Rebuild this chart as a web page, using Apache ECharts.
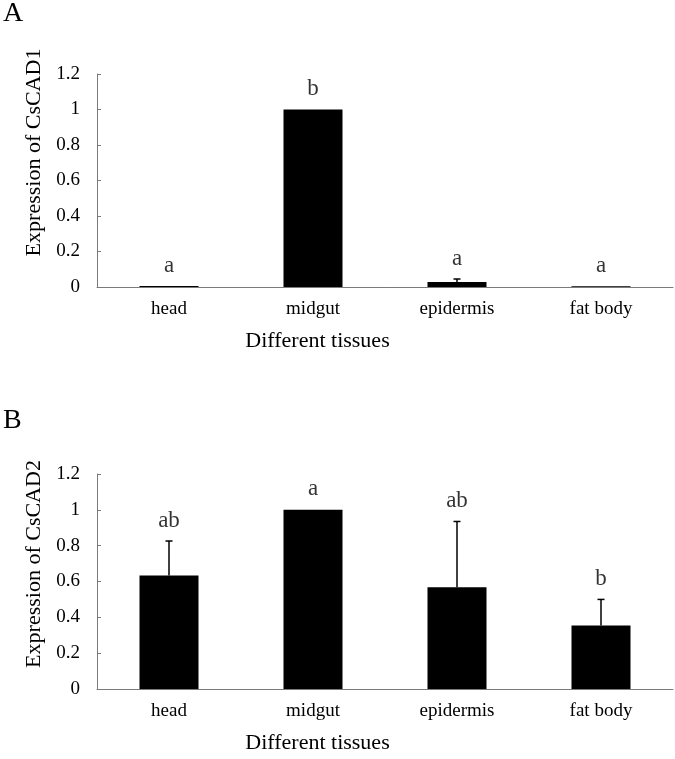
<!DOCTYPE html>
<html>
<head>
<meta charset="utf-8">
<script src="https://cdn.jsdelivr.net/npm/echarts@6/dist/echarts.min.js"></script>
<style>
html,body{margin:0;padding:0;background:#fff;}
#chart{width:675px;height:759px;}
</style>
</head>
<body>
<div id="chart"></div>
<script>
const categories = ['head', 'midgut', 'epidermis', 'fat body'];
const valuesA = [0.005, 1.0, 0.028, 0.004];
const errorsA = [0, 0, 0.017, 0];
const lettersA = ['a', 'b', 'a', 'a'];
const valuesB = [0.633, 1.0, 0.568, 0.354];
const errorsB = [0.193, 0, 0.367, 0.146];
const lettersB = ['ab', 'a', 'ab', 'b'];
const yTicks = { min: 0, max: 1.2, interval: 0.2 };

const FONT = '"Liberation Serif", "Times New Roman", serif';
const AXIS_COLOR = '#7a7a7a';

function xAxisFor(gridIndex) {
  return {
    type: 'category', gridIndex: gridIndex, data: categories,
    axisLine: { lineStyle: { color: AXIS_COLOR, width: 1 } },
    axisTick: { inside: true, length: 4, lineStyle: { color: AXIS_COLOR } },
    axisLabel: { color: '#000', fontFamily: FONT, fontSize: 19, margin: 13 },
    name: 'Different tissues', nameLocation: 'middle', nameGap: 43,
    nameTextStyle: { color: '#000', fontFamily: FONT, fontSize: 22, padding: [0, 135, 0, 0] }
  };
}
function yAxisFor(gridIndex, name, shift) {
  return {
    type: 'value', gridIndex: gridIndex, min: yTicks.min, max: yTicks.max, interval: yTicks.interval,
    splitLine: { show: false },
    axisLine: { show: true, lineStyle: { color: AXIS_COLOR, width: 1 } },
    axisTick: { show: true, inside: true, length: 4, lineStyle: { color: AXIS_COLOR } },
    axisLabel: { color: '#000', fontFamily: FONT, fontSize: 19, margin: 17 },
    name: name, nameLocation: 'middle', nameGap: 50,
    nameTextStyle: { color: '#000', fontFamily: FONT, fontSize: 22, padding: [0, 0, 0, shift] }
  };
}
function errorSeries(idx, values, errors) {
  return {
    type: 'custom', xAxisIndex: idx, yAxisIndex: idx, z: 5,
    data: values.map((v, i) => [i, v, v + errors[i]]),
    renderItem: function (params, api) {
      const lo = api.coord([api.value(0), api.value(1)]);
      const hi = api.coord([api.value(0), api.value(2)]);
      if (Math.abs(lo[1] - hi[1]) < 0.5) return { type: 'group', children: [] };
      const style = { stroke: '#000', lineWidth: 1.5 };
      return {
        type: 'group',
        children: [
          { type: 'line', shape: { x1: lo[0], y1: lo[1], x2: hi[0], y2: hi[1] }, style: style },
          { type: 'line', shape: { x1: hi[0] - 3.5, y1: hi[1], x2: hi[0] + 3.5, y2: hi[1] }, style: style }
        ]
      };
    }
  };
}
function letterSeries(idx, values, errors, letters) {
  return {
    type: 'scatter', xAxisIndex: idx, yAxisIndex: idx, symbolSize: 0, silent: true,
    data: values.map((v, i) => [i, v + errors[i]]),
    label: {
      show: true, position: 'top', distance: 9, color: '#000', fontFamily: FONT, fontSize: 23,
      formatter: p => letters[p.dataIndex]
    }
  };
}

const chart = echarts.init(document.getElementById('chart'), null, { renderer: 'canvas' });
chart.setOption({
  backgroundColor: '#fff',
  animation: false,
  grid: [
    { left: 97, right: 2, top: 74, height: 213 },
    { left: 97, right: 2, top: 474, height: 215 }
  ],
  xAxis: [xAxisFor(0), xAxisFor(1)],
  yAxis: [yAxisFor(0, 'Expression of CsCAD1', 56), yAxisFor(1, 'Expression of CsCAD2', 35)],
  graphic: [
    { type: 'text', left: 3, top: 0, style: { text: 'A', font: '28px ' + FONT, fill: '#000' } },
    { type: 'text', left: 3, top: 407, style: { text: 'B', font: '28px ' + FONT, fill: '#000' } }
  ],
  series: [
    { type: 'bar', xAxisIndex: 0, yAxisIndex: 0, data: valuesA, barWidth: 59, itemStyle: { color: '#000' } },
    { type: 'bar', xAxisIndex: 1, yAxisIndex: 1, data: valuesB, barWidth: 59, itemStyle: { color: '#000' } },
    errorSeries(0, valuesA, errorsA),
    errorSeries(1, valuesB, errorsB),
    letterSeries(0, valuesA, errorsA, lettersA),
    letterSeries(1, valuesB, errorsB, lettersB)
  ]
});
</script>
</body>
</html>
